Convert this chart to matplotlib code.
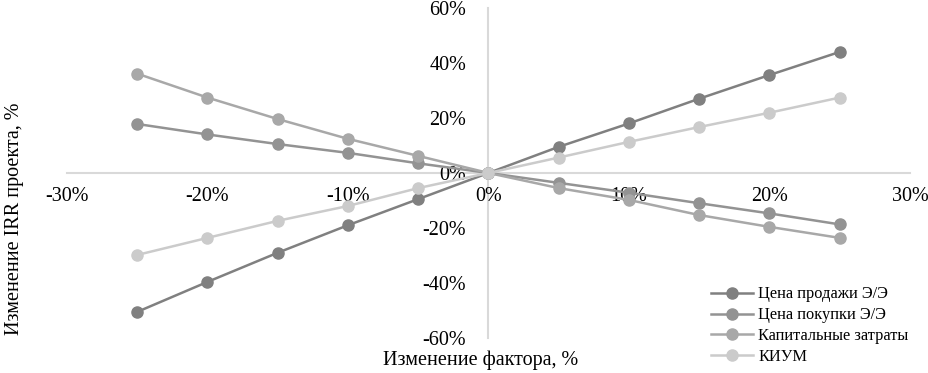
import matplotlib.pyplot as plt
from matplotlib.ticker import PercentFormatter

plt.rcParams['font.family'] = ['Liberation Serif', 'DejaVu Serif']
plt.rcParams['axes.unicode_minus'] = False

# изменение фактора, %
factor = [-25, -20, -15, -10, -5, 0, 5, 10, 15, 20, 25]

# изменение IRR проекта, %
sale_price = [-50.5, -39.6, -29.0, -19.0, -9.5, 0, 9.5, 18.0, 27.0, 35.6, 44.0]
buy_price = [17.8, 14.0, 10.5, 7.3, 3.5, 0, -3.6, -7.2, -11.0, -14.7, -18.7]
capex = [36.1, 27.4, 19.6, 12.4, 6.2, 0, -5.5, -9.8, -15.3, -19.6, -23.6]
kium = [-29.8, -23.6, -17.4, -12.0, -5.5, 0, 5.6, 11.3, 16.7, 21.9, 27.4]

series = [
    ('Цена продажи Э/Э', sale_price, '#808080'),
    ('Цена покупки Э/Э', buy_price, '#939393'),
    ('Капитальные затраты', capex, '#a8a8a8'),
    ('КИУМ', kium, '#cbcbcb'),
]

fig = plt.figure(figsize=(9.29, 3.73), dpi=100)
ax = fig.add_axes([0.0721, 0.0938, 0.9074, 0.885])

for name, vals, color in series:
    ax.plot([f / 100 for f in factor], [v / 100 for v in vals], color=color,
            lw=1.8, marker='o', ms=8, label=name)

ax.set_xlim(-0.3, 0.3)
ax.set_ylim(-0.6, 0.6)
ax.set_xticks([-0.3, -0.2, -0.1, 0, 0.1, 0.2, 0.3])
ax.set_yticks([-0.6, -0.4, -0.2, 0, 0.2, 0.4, 0.6])
ax.xaxis.set_major_formatter(PercentFormatter(1.0, decimals=0))
ax.yaxis.set_major_formatter(PercentFormatter(1.0, decimals=0))

for side in ['top', 'right']:
    ax.spines[side].set_visible(False)
ax.spines['left'].set_position(('data', 0))
ax.spines['bottom'].set_position(('data', 0))
for side in ['left', 'bottom']:
    ax.spines[side].set_color('#d9d9d9')
    ax.spines[side].set_linewidth(1.5)
    ax.spines[side].set_zorder(0)

ax.tick_params(axis='both', length=0, labelsize=14.5, colors='black')
ax.tick_params(axis='x', pad=10)
ax.tick_params(axis='y', pad=16)

fig.text(15 / 929, 1 - 219 / 373, 'Изменение IRR проекта, %', rotation=90,
         ha='center', va='center', fontsize=14.5)
fig.text(481 / 929, 1 - 360 / 373, 'Изменение фактора, %',
         ha='center', va='center', fontsize=14.5)

ax.legend(loc='lower right', bbox_to_anchor=(1.006, -0.102), frameon=False,
          fontsize=11.8, handlelength=2.6, handletextpad=0.3,
          labelspacing=0.3, borderaxespad=0)

fig.savefig('out.png', dpi=100)
